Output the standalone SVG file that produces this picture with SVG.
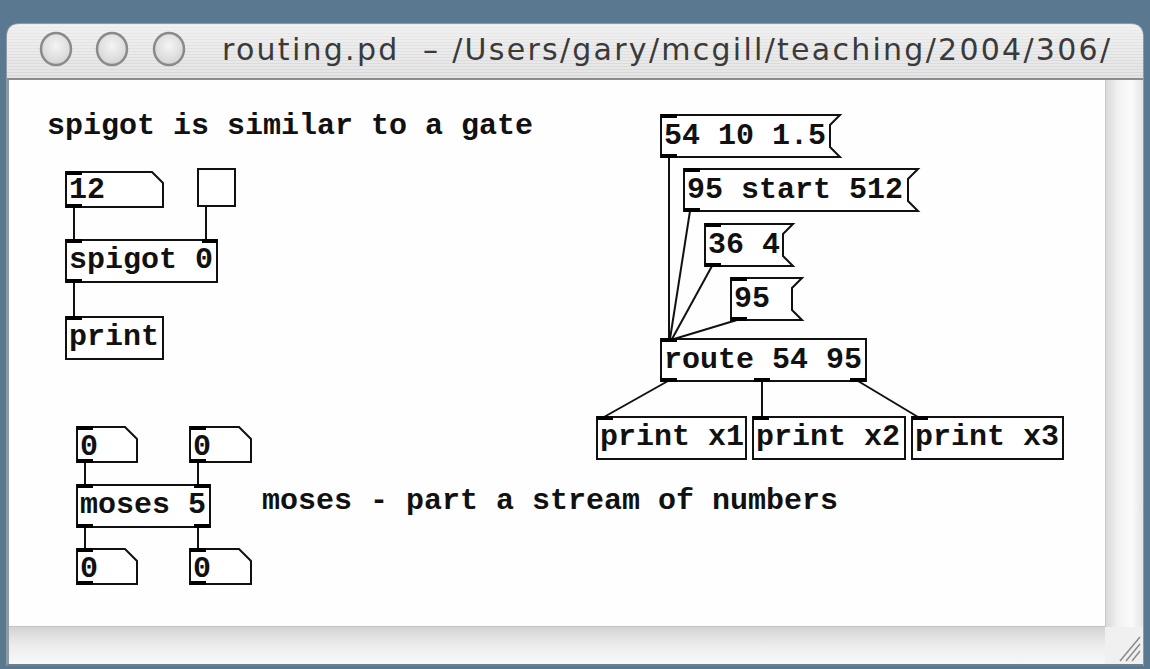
<svg xmlns="http://www.w3.org/2000/svg" width="1150" height="669" viewBox="0 0 1150 669">
<defs>
<style>
.t{font-family:"Liberation Mono","DejaVu Sans Mono",monospace;font-weight:bold;font-size:30px;fill:#111}
.b{fill:#fff;stroke:#111;stroke-width:2}
.io{fill:#000}
.c{stroke:#111;stroke-width:2;fill:none}
.btn{fill:url(#btnG);stroke:#8a8a8a;stroke-width:2.5}
</style>
<pattern id="stripes" width="4" height="3" patternUnits="userSpaceOnUse">
<rect width="4" height="3" fill="#e4e4e4"/>
<rect width="4" height="1" fill="#d6d6d6"/>
</pattern>
<linearGradient id="titleG" x1="0" y1="0" x2="0" y2="1">
<stop offset="0" stop-color="#ffffff" stop-opacity="0.5"/>
<stop offset="1" stop-color="#ffffff" stop-opacity="0"/>
</linearGradient>
<radialGradient id="btnG" cx="0.5" cy="0.4" r="0.6">
<stop offset="0" stop-color="#f4f4f4"/>
<stop offset="1" stop-color="#d4d4d4"/>
</radialGradient>
<linearGradient id="vscroll" x1="0" y1="0" x2="1" y2="0">
<stop offset="0" stop-color="#d8d8d8"/>
<stop offset="0.35" stop-color="#f2f2f2"/>
<stop offset="0.7" stop-color="#fbfbfb"/>
<stop offset="1" stop-color="#e4e4e4"/>
</linearGradient>
<linearGradient id="hscroll" x1="0" y1="0" x2="0" y2="1">
<stop offset="0" stop-color="#d2d2d2"/>
<stop offset="0.5" stop-color="#ececec"/>
<stop offset="1" stop-color="#f8f8f8"/>
</linearGradient>
<clipPath id="titleClip"><rect x="9" y="23" width="1103" height="56"/></clipPath>
</defs>

<!-- desktop background -->
<rect width="1150" height="669" fill="#5a7890"/>

<!-- window -->
<g id="window">
<path d="M6 37 Q6 23 20 23 L1130 23 Q1144 23 1144 37 L1144 666 L6 666 Z" fill="#8e9aa4"/>
<path d="M7 37 Q7 24 20 24 L1130 24 Q1143 24 1143 37 L1143 79 L7 79 Z" fill="url(#stripes)"/>
<path d="M7 37 Q7 24 20 24 L1130 24 Q1143 24 1143 37 L1143 79 L7 79 Z" fill="url(#titleG)"/>
<rect x="7" y="78" width="1136" height="2" fill="#8c8c8c"/>
<rect x="9" y="80" width="1096" height="546" fill="#fefefe"/>
<rect x="1105" y="80" width="38" height="547" fill="url(#vscroll)"/>
<rect x="1105" y="80" width="1" height="547" fill="#c8c8c8"/>
<rect x="9" y="626" width="1096" height="38" fill="url(#hscroll)"/>
<rect x="9" y="626" width="1096" height="1" fill="#c4c4c4"/>
<rect x="1105" y="627" width="38" height="37" fill="#f0f0f0"/>
<g stroke="#8a8a8a" stroke-width="1.5">
<line x1="1120" y1="661" x2="1140" y2="637"/>
<line x1="1126" y1="661" x2="1140" y2="644"/>
<line x1="1132" y1="661" x2="1140" y2="651"/>
</g>
<rect x="7" y="664" width="1136" height="2" fill="#6f7f8c"/>
</g>

<!-- title bar -->
<g id="titlebar">
<ellipse class="btn" cx="56" cy="49" rx="15" ry="16"/>
<ellipse class="btn" cx="112" cy="49" rx="15" ry="16"/>
<ellipse class="btn" cx="169" cy="49" rx="15" ry="16"/>
<g clip-path="url(#titleClip)">
<text x="222" y="60" font-family="DejaVu Sans, sans-serif" font-size="30" fill="#3a3a3a" xml:space="preserve" textLength="888" lengthAdjust="spacing">routing.pd  – /Users/gary/mcgill/teaching/2004/306/</text>
</g>
</g>

<!-- connectors -->
<g id="connectors">
<line class="c" x1="74" y1="207" x2="74" y2="240"/>
<line class="c" x1="206" y1="206" x2="206" y2="240"/>
<line class="c" x1="74" y1="282" x2="74" y2="317"/>
<line class="c" x1="669" y1="157" x2="669" y2="339"/>
<line class="c" x1="690" y1="211" x2="670" y2="339"/>
<line class="c" x1="712" y1="266" x2="672" y2="339"/>
<line class="c" x1="737" y1="320" x2="674" y2="339"/>
<line class="c" x1="668" y1="381" x2="604" y2="417"/>
<line class="c" x1="762" y1="381" x2="762" y2="417"/>
<line class="c" x1="858" y1="381" x2="918" y2="417"/>
<line class="c" x1="85" y1="462" x2="85" y2="485"/>
<line class="c" x1="198" y1="462" x2="198" y2="485"/>
<line class="c" x1="85" y1="527" x2="85" y2="549"/>
<line class="c" x1="198" y1="527" x2="198" y2="549"/>
</g>

<!-- comments -->
<g id="comment1"><text class="t" x="47" y="134">spigot is similar to a gate</text></g>
<g id="comment2"><text class="t" x="262" y="509">moses - part a stream of numbers</text></g>

<!-- left patch -->
<g id="num12">
<polygon class="b" points="66,172 152,172 163,183 163,207 66,207"/>
<rect class="io" x="66" y="171" width="16" height="4"/>
<rect class="io" x="66" y="204" width="16" height="4"/>
<text class="t" x="69" y="198">12</text>
</g>
<g id="toggle">
<rect class="b" x="198" y="169" width="37" height="37"/>
</g>
<g id="spigot">
<rect class="b" x="66" y="240" width="151" height="42"/>
<rect class="io" x="66" y="239" width="16" height="4"/>
<rect class="io" x="202" y="239" width="15" height="4"/>
<rect class="io" x="66" y="279" width="16" height="4"/>
<text class="t" x="69" y="268">spigot 0</text>
</g>
<g id="print1">
<rect class="b" x="66" y="317" width="97" height="42"/>
<rect class="io" x="66" y="316" width="16" height="4"/>
<text class="t" x="69" y="345">print</text>
</g>

<!-- right patch -->
<g id="msg1">
<polygon class="b" points="661,115 840,115 830,125 830,147 840,157 661,157"/>
<rect class="io" x="661" y="114" width="16" height="4"/>
<rect class="io" x="661" y="154" width="16" height="4"/>
<text class="t" x="664" y="144">54 10 1.5</text>
</g>
<g id="msg2">
<polygon class="b" points="684,169 918,169 908,179 908,201 918,211 684,211"/>
<rect class="io" x="684" y="168" width="16" height="4"/>
<rect class="io" x="684" y="208" width="16" height="4"/>
<text class="t" x="687" y="198">95 start 512</text>
</g>
<g id="msg3">
<polygon class="b" points="705,224 793,224 783,234 783,256 793,266 705,266"/>
<rect class="io" x="705" y="223" width="16" height="4"/>
<rect class="io" x="705" y="263" width="16" height="4"/>
<text class="t" x="708" y="253">36 4</text>
</g>
<g id="msg4">
<polygon class="b" points="731,278 802,278 792,288 792,310 802,320 731,320"/>
<rect class="io" x="731" y="277" width="16" height="4"/>
<rect class="io" x="731" y="317" width="16" height="4"/>
<text class="t" x="734" y="307">95</text>
</g>
<g id="route">
<rect class="b" x="661" y="339" width="205" height="42"/>
<rect class="io" x="661" y="338" width="16" height="4"/>
<rect class="io" x="661" y="378" width="16" height="4"/>
<rect class="io" x="754" y="378" width="16" height="4"/>
<rect class="io" x="850" y="378" width="16" height="4"/>
<text class="t" x="664" y="368">route 54 95</text>
</g>
<g id="printx1">
<rect class="b" x="597" y="417" width="149" height="42"/>
<rect class="io" x="597" y="416" width="16" height="4"/>
<text class="t" x="600" y="445">print x1</text>
</g>
<g id="printx2">
<rect class="b" x="753" y="417" width="152" height="42"/>
<rect class="io" x="753" y="416" width="16" height="4"/>
<text class="t" x="756" y="445">print x2</text>
</g>
<g id="printx3">
<rect class="b" x="912" y="417" width="151" height="42"/>
<rect class="io" x="912" y="416" width="16" height="4"/>
<text class="t" x="915" y="445">print x3</text>
</g>

<!-- bottom patch -->
<g id="numA">
<polygon class="b" points="77,427 125,427 137,439 137,462 77,462"/>
<rect class="io" x="77" y="426" width="16" height="4"/>
<rect class="io" x="77" y="459" width="16" height="4"/>
<text class="t" x="80" y="455">0</text>
</g>
<g id="numB">
<polygon class="b" points="190,427 239,427 251,439 251,462 190,462"/>
<rect class="io" x="190" y="426" width="16" height="4"/>
<rect class="io" x="190" y="459" width="16" height="4"/>
<text class="t" x="193" y="455">0</text>
</g>
<g id="moses">
<rect class="b" x="77" y="485" width="133" height="42"/>
<rect class="io" x="77" y="484" width="16" height="4"/>
<rect class="io" x="194" y="484" width="16" height="4"/>
<rect class="io" x="77" y="524" width="16" height="4"/>
<rect class="io" x="194" y="524" width="16" height="4"/>
<text class="t" x="80" y="513">moses 5</text>
</g>
<g id="numC">
<polygon class="b" points="77,549 125,549 137,561 137,584 77,584"/>
<rect class="io" x="77" y="548" width="16" height="4"/>
<rect class="io" x="77" y="581" width="16" height="4"/>
<text class="t" x="80" y="577">0</text>
</g>
<g id="numD">
<polygon class="b" points="190,549 239,549 251,561 251,584 190,584"/>
<rect class="io" x="190" y="548" width="16" height="4"/>
<rect class="io" x="190" y="581" width="16" height="4"/>
<text class="t" x="193" y="577">0</text>
</g>
</svg>
